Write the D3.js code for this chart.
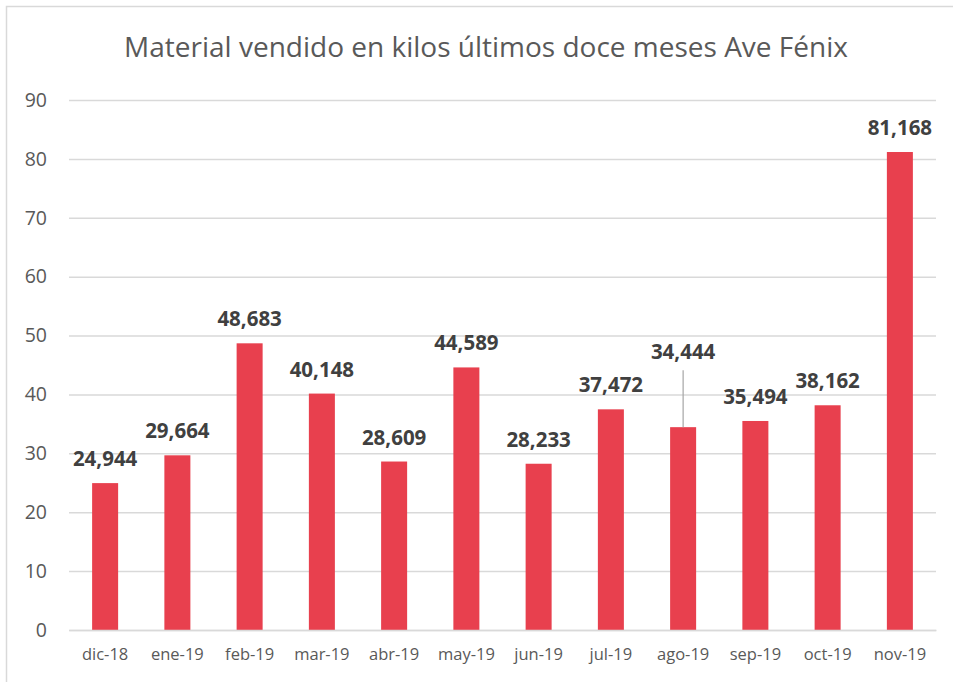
<!DOCTYPE html>
<html><head><meta charset="utf-8">
<script src="https://cdn.jsdelivr.net/npm/d3@7"></script>
<style>body{margin:0;background:#fff}svg{display:block}</style>
</head><body>
<svg id="c" width="953" height="682"></svg>
<script>
const categories = ["dic-18","ene-19","feb-19","mar-19","abr-19","may-19","jun-19","jul-19","ago-19","sep-19","oct-19","nov-19"];
const values = [24.944, 29.664, 48.683, 40.148, 28.609, 44.589, 28.233, 37.472, 34.444, 35.494, 38.162, 81.168];
const yTicks = [0,10,20,30,40,50,60,70,80,90];
const title = "Material vendido en kilos últimos doce meses Ave Fénix";

const svg = d3.select("#c");
const font = "'Open Sans', 'DejaVu Sans', sans-serif";
svg.append("rect").attr("x",6.5).attr("y",6.5).attr("width",960).attr("height",700)
  .attr("fill","#fff").attr("stroke","#d9d9d9").attr("stroke-width",1.5);

const m = {left:69, right:936, top:100, bottom:630};
const x = d3.scaleBand().domain(categories).range([m.left,m.right]).paddingInner(0.64).paddingOuter(0.32);
const y = d3.scaleLinear().domain([0,90]).range([m.bottom,m.top]);

svg.append("text").attr("x",486).attr("y",57).attr("text-anchor","middle")
  .attr("font-family",font).attr("font-size",28).attr("fill","#595959").text(title);

const gy = svg.append("g").attr("transform",`translate(${m.left},0)`)
  .call(d3.axisLeft(y).tickValues(yTicks).tickSize(-(m.right-m.left)).tickPadding(21));
gy.select(".domain").remove();
gy.selectAll(".tick line").attr("stroke","#d9d9d9").attr("stroke-width",1.5);
gy.selectAll(".tick text").attr("x",-22).attr("font-family",font).attr("font-size",19.5).attr("fill","#595959");

svg.selectAll("rect.bar").data(values).join("rect").attr("class","bar")
  .attr("x",(d,i)=>x(categories[i])).attr("width",x.bandwidth())
  .attr("y",d=>y(d)).attr("height",d=>y(0)-y(d)).attr("fill","#e8404e");

const gx = svg.append("g").attr("transform",`translate(0,${m.bottom})`)
  .call(d3.axisBottom(x).tickSize(0).tickPadding(18));
gx.select(".domain").attr("stroke","#d9d9d9").attr("stroke-width",1.5);
gx.selectAll(".tick text").attr("font-family",font).attr("font-size",16.5).attr("fill","#595959");

const fmt = d => d.toFixed(3).replace(".",",");
const offsets = values.map((d,i)=> categories[i]==="ago-19" ? 68 : 17);
svg.selectAll("text.lbl").data(values).join("text").attr("class","lbl")
  .attr("x",(d,i)=>x(categories[i])+x.bandwidth()/2)
  .attr("y",(d,i)=>y(d)-offsets[i])
  .attr("text-anchor","middle").attr("font-family",font).attr("font-weight","bold")
  .attr("font-size",20.5).attr("fill","#404040").text(fmt);

values.forEach((d,i)=>{
  if(offsets[i]>30){
    const cx = x(categories[i])+x.bandwidth()/2;
    svg.append("line").attr("x1",cx).attr("x2",cx).attr("y1",y(d)-offsets[i]+11).attr("y2",y(d))
      .attr("stroke","#a6a6a6").attr("stroke-width",1.2);
  }
});
</script>
</body></html>
